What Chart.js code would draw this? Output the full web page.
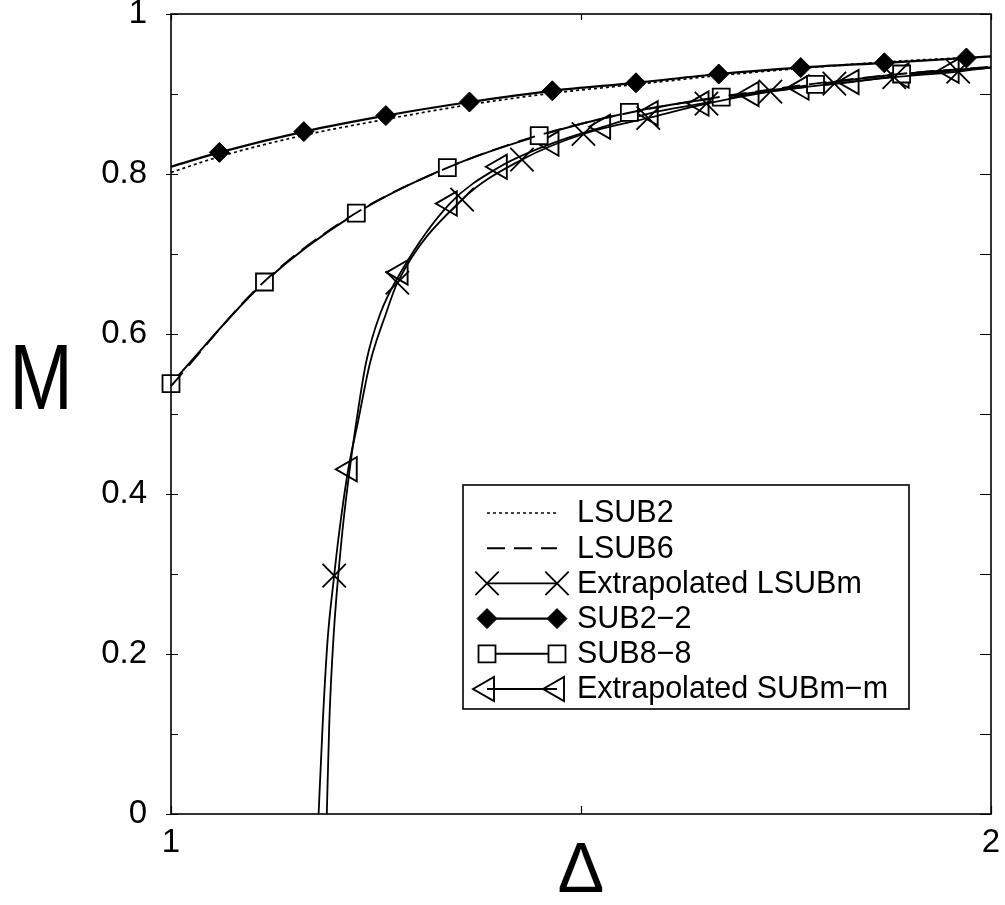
<!DOCTYPE html>
<html>
<head>
<meta charset="utf-8">
<script src="https://cdn.jsdelivr.net/npm/chart.js@4.4.1/dist/chart.umd.min.js"></script>
<style>
  html, body { margin: 0; padding: 0; background: #fff; }
  #wrap { width: 1005px; height: 905px; }
</style>
</head>
<body>
<div id="wrap"><canvas id="magChart" width="1005" height="905"></canvas></div>
<script>
// axis ticks / titles
const xTicks = [1, 1.5, 2];
const xTickLabels = ["1", "", "2"];
const yTicks = [0, 0.2, 0.4, 0.6, 0.8, 1];
const yTickLabels = ["0", "0.2", "0.4", "0.6", "0.8", "1"];
const yMinorTicks = [0.1, 0.3, 0.5, 0.7, 0.9];
const xTitle = "\u0394";
const yTitle = "M";
const seriesNames = ["LSUB2", "LSUB6", "Extrapolated LSUBm", "SUB2\u22122", "SUB8\u22128", "Extrapolated SUBm\u2212m"];

// LSUB2 (dotted line only)
const lsub2X = [1, 1.06, 1.16, 1.26, 1.36, 1.465, 1.567, 1.668, 1.768, 1.87, 2];
const lsub2Y = [0.802, 0.822, 0.848, 0.868, 0.886, 0.901, 0.912, 0.923, 0.932, 0.940, 0.947];

// LSUB6 (dashed line only)
const lsub6X = [1, 1.111, 1.222, 1.333, 1.444, 1.556, 1.667, 1.778, 1.889, 2];
const lsub6Y = [0.535, 0.663, 0.749, 0.806, 0.847, 0.876, 0.896, 0.912, 0.925, 0.934];

// Extrapolated LSUBm : crosses + extra points along the curve
const lsubmX = [1.199, 1.276, 1.355, 1.428, 1.503, 1.582, 1.653, 1.731, 1.809, 1.882, 1.960];
const lsubmY = [0.298, 0.664, 0.768, 0.818, 0.850, 0.870, 0.888, 0.903, 0.913, 0.921, 0.928];
const lsubmCurveX = [1.180, 1.185, 1.191, 1.204, 1.216, 1.228, 1.243, 1.262, 2];
const lsubmCurveY = [0, 0.113, 0.218, 0.343, 0.430, 0.490, 0.565, 0.625, 0.933];

// SUB2-2 : diamonds + curve ends
const sub22X = [1.059, 1.162, 1.262, 1.364, 1.465, 1.567, 1.668, 1.768, 1.870, 1.970];
const sub22Y = [0.827, 0.853, 0.873, 0.890, 0.904, 0.914, 0.925, 0.933, 0.939, 0.945];
const sub22CurveX = [1, 2];
const sub22CurveY = [0.809, 0.947];

// SUB8-8 : squares + curve end
const sub88X = [1, 1.114, 1.226, 1.337, 1.449, 1.559, 1.671, 1.786, 1.891];
const sub88Y = [0.538, 0.665, 0.751, 0.808, 0.848, 0.877, 0.896, 0.912, 0.925];
const sub88CurveX = [2];
const sub88CurveY = [0.933];

// Extrapolated SUBm-m : triangles + extra points along the curve
const submX = [1.218, 1.280, 1.340, 1.401, 1.464, 1.527, 1.585, 1.647, 1.708, 1.769, 1.830, 1.891, 1.952];
const submY = [0.431, 0.677, 0.763, 0.809, 0.838, 0.859, 0.876, 0.888, 0.900, 0.908, 0.915, 0.923, 0.929];
const submCurveX = [1.190, 1.193, 1.198, 1.208, 1.226, 1.238, 1.255, 2];
const submCurveY = [0, 0.113, 0.218, 0.343, 0.490, 0.565, 0.625, 0.933];

const FONT = "'Liberation Sans', Arial, Helvetica, sans-serif";

function mergePoints(mx, my, cx, cy) {
    const pts = mx.map((x, i) => ({ x: x, y: my[i], mark: true }));
    (cx || []).forEach((x, i) => pts.push({ x: x, y: cy[i], mark: false }));
    return pts.sort((a, b) => a.x - b.x);
}

// marker styles (also used by the legend); triangle rotated to point left
const markerStyles = [
    null,
    null,
    { pointStyle: "crossRot", radius: 16.5, rotation: 0, borderWidth: 1.8, fill: "rgba(0,0,0,0)" },
    { pointStyle: "rectRot", radius: 10, rotation: 0, borderWidth: 1, fill: "#000" },
    { pointStyle: "rect", radius: 12, rotation: 0, borderWidth: 1.8, fill: "#fff" },
    { pointStyle: "triangle", radius: 14, rotation: -90, borderWidth: 1.9, fill: "rgba(0,0,0,0)" }
];
const lineDashes = [[3, 3], [18, 9], [], [], [], []];
const lineWidths = [1.7, 1.9, 1.8, 2.2, 2, 1.8];

const seriesPoints = [
    lsub2X.map((x, i) => ({ x: x, y: lsub2Y[i], mark: false })),
    lsub6X.map((x, i) => ({ x: x, y: lsub6Y[i], mark: false })),
    mergePoints(lsubmX, lsubmY, lsubmCurveX, lsubmCurveY),
    mergePoints(sub22X, sub22Y, sub22CurveX, sub22CurveY),
    mergePoints(sub88X, sub88Y, sub88CurveX, sub88CurveY),
    mergePoints(submX, submY, submCurveX, submCurveY)
];

const datasets = seriesPoints.map((pts, k) => {
    const m = markerStyles[k];
    return {
        label: seriesNames[k],
        data: pts,
        showLine: true,
        borderColor: "#000",
        borderWidth: lineWidths[k],
        borderDash: lineDashes[k],
        cubicInterpolationMode: "monotone",
        clip: false,
        pointStyle: m ? m.pointStyle : "circle",
        pointRotation: m ? m.rotation : 0,
        pointRadius: ctx => (m && ctx.raw && ctx.raw.mark) ? m.radius : 0,
        pointHoverRadius: ctx => (m && ctx.raw && ctx.raw.mark) ? m.radius : 0,
        pointBorderWidth: m ? m.borderWidth : 0,
        pointBorderColor: "#000",
        pointBackgroundColor: m ? m.fill : "#000"
    };
});

// frame, inner ticks, axis titles and legend
const decorPlugin = {
    id: "decor",
    afterDatasetsDraw(chart) {
        const c = chart.ctx;
        const a = chart.chartArea;
        const xs = chart.scales.x, ys = chart.scales.y;
        c.save();
        c.strokeStyle = "#000";
        c.lineWidth = 1.6;
        c.setLineDash([]);
        c.strokeRect(a.left, a.top, a.right - a.left, a.bottom - a.top);

        c.lineWidth = 1.2;
        c.beginPath();
        yTicks.concat(yMinorTicks).forEach(v => {
            const py = Math.round(ys.getPixelForValue(v)) + 0.5;
            const major = yTicks.indexOf(v) >= 0;
            c.moveTo(a.left - (major ? 5 : 0), py); c.lineTo(a.left + 7, py);
            c.moveTo(a.right, py); c.lineTo(a.right - 11, py);
        });
        xTicks.forEach(v => {
            const px = Math.round(xs.getPixelForValue(v)) + 0.5;
            c.moveTo(px, a.bottom); c.lineTo(px, a.bottom - 8);
            c.moveTo(px, a.top); c.lineTo(px, a.top + 6);
        });
        c.stroke();

        // axis titles
        c.fillStyle = "#000";
        c.textAlign = "center";
        c.textBaseline = "middle";
        c.font = "70px " + FONT;
        c.fillText(xTitle, (a.left + a.right) / 2, 873);
        c.save();
        c.translate(41, 384);
        c.scale(0.83, 1);
        c.font = "92px " + FONT;
        c.fillText(yTitle, 0, 0);
        c.restore();

        // legend
        const box = { left: 463, top: 485, right: 909, bottom: 709 };
        c.fillStyle = "#fff";
        c.fillRect(box.left, box.top, box.right - box.left, box.bottom - box.top);
        c.lineWidth = 1.6;
        c.strokeRect(box.left, box.top, box.right - box.left, box.bottom - box.top);
        const rowY0 = 513, rowStep = 35.2;
        const x1 = 487, x2 = 557, textX = 577;
        c.font = "30.5px " + FONT;
        c.textAlign = "left";
        seriesNames.forEach((name, k) => {
            const y = rowY0 + k * rowStep;
            c.strokeStyle = "#000";
            c.lineWidth = lineWidths[k];
            c.setLineDash(lineDashes[k]);
            c.beginPath();
            c.moveTo(x1, y); c.lineTo(x2, y);
            c.stroke();
            c.setLineDash([]);
            const m = markerStyles[k];
            if (m) {
                [x1, x2].forEach(px => {
                    c.fillStyle = m.fill;
                    c.strokeStyle = "#000";
                    c.lineWidth = m.borderWidth;
                    Chart.helpers.drawPoint(c, { pointStyle: m.pointStyle, radius: m.radius, rotation: m.rotation, borderWidth: m.borderWidth }, px, y);
                });
            }
            c.fillStyle = "#000";
            c.fillText(name, textX, y + 1);
        });
        c.restore();
    }
};

const tickFont = { family: FONT, size: 33, lineHeight: 0.85 };

function zeroPad(s) {
    s.paddingTop = 0; s.paddingBottom = 0; s.paddingLeft = 0; s.paddingRight = 0;
}

new Chart(document.getElementById("magChart").getContext("2d"), {
    type: "scatter",
    data: { datasets: datasets },
    options: {
        responsive: false,
        animation: false,
        events: [],
        layout: { padding: { left: 0, right: 14, top: 14, bottom: 0 } },
        plugins: { legend: { display: false }, tooltip: { enabled: false } },
        scales: {
            x: {
                type: "linear",
                min: 1,
                max: 2,
                afterBuildTicks: s => { s.ticks = xTicks.map(v => ({ value: v })); },
                afterFit: s => { s.height = 91; zeroPad(s); },
                grid: { display: false, drawTicks: false },
                border: { display: false },
                ticks: {
                    autoSkip: false,
                    maxRotation: 0,
                    color: "#000",
                    font: tickFont,
                    padding: 15,
                    callback: (v, i) => xTickLabels[i]
                }
            },
            y: {
                type: "linear",
                min: 0,
                max: 1,
                afterBuildTicks: s => { s.ticks = yTicks.map(v => ({ value: v })); },
                afterFit: s => { s.width = 171; zeroPad(s); },
                grid: { display: false, drawTicks: false },
                border: { display: false },
                ticks: {
                    autoSkip: false,
                    color: "#000",
                    font: tickFont,
                    padding: 24,
                    callback: (v, i) => yTickLabels[i]
                }
            }
        }
    },
    plugins: [decorPlugin]
});
</script>
</body>
</html>
